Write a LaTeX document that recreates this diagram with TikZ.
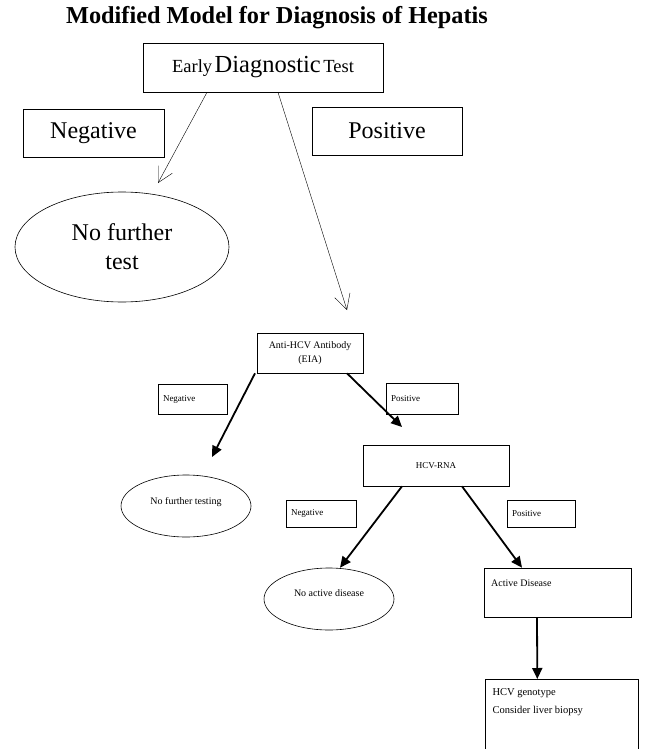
\documentclass[tikz,border=0pt]{standalone}
\usepackage{fontspec}
\setmainfont{Liberation Serif}
\usetikzlibrary{arrows.meta,positioning,shapes.geometric}

\begin{document}
\begin{tikzpicture}[x=1pt,y=-1pt,
    box/.style={draw,line width=0.6pt,inner sep=2pt},
    oval/.style={draw,ellipse,line width=0.6pt,inner sep=0pt,align=center},
    tag/.style={box,font=\fontsize{9}{11}\selectfont,align=left,inner xsep=5pt},
    small/.style={font=\fontsize{10}{14}\selectfont},
    big/.style={font=\fontsize{24}{28}\selectfont},
    thinarrow/.style={line width=0.4pt,
      -{Straight Barb[length=15pt,width=16pt,line width=0.4pt]}},
    thickarrow/.style={line width=1.8pt,-{Triangle[length=11pt,width=10pt]}}]
  \path[use as bounding box,clip] (0,0) rectangle (648,749);
  % Title
  \node[font=\fontsize{24.3}{28}\selectfont\bfseries] (title) at (277,18)
    {Modified Model for Diagnosis of Hepatis};
  % First test
  \node[box,minimum width=240pt,minimum height=49pt] (edt) at (263,67.5)
    {{\fontsize{18.5}{22}\selectfont Early} {\fontsize{24.5}{28}\selectfont Diagnostic}
     {\fontsize{18.5}{22}\selectfont Test}};
  \node[box,big,minimum width=141pt,minimum height=48pt] (neg1) at (93.5,133) {Negative};
  \node[box,big,minimum width=150pt,minimum height=48pt] (pos1) at (387,131) {Positive};
  \node[oval,minimum width=214pt,minimum height=110pt,font=\fontsize{24}{29}\selectfont]
    (nft) at (122,247) {No further\\test};
  \coordinate (tipneg) at (158,183);
  \coordinate (tippos) at (347,310);
  \draw[thinarrow] ([xshift=-56pt]edt.south) -- (tipneg);
  \draw[thinarrow] ([xshift=15pt]edt.south) -- (tippos);
  % Antibody test
  \node[box,small,align=center,minimum width=106pt,minimum height=40pt]
    (anti) at (310,353) {Anti-HCV Antibody\\(EIA)};
  \node[tag,text width=59pt,minimum height=30pt] (neg2) at (192.5,399) {Negative};
  \node[tag,text width=62pt,minimum height=31pt] (pos2) at (422,398.5) {Positive};
  \node[oval,small,minimum width=130pt,minimum height=62pt]
    (nftest) at (186,506) {No further testing\\[-3pt]};
  \coordinate (tipnftest) at (212,457);
  \coordinate (tiprna) at (402,427);
  \draw[thickarrow] ([xshift=-55pt]anti.south) -- (tipnftest);
  \draw[thickarrow] ([xshift=37pt]anti.south) -- (tiprna);
  % RNA test
  \node[box,font=\fontsize{9}{11}\selectfont,minimum width=146pt,minimum height=41pt]
    (rna) at (436,465.5) {HCV-RNA};
  \node[tag,text width=60pt,minimum height=27pt] (neg3) at (321,513.5) {Negative};
  \node[tag,text width=58pt,minimum height=27pt] (pos3) at (541,513.5) {Positive};
  \node[oval,small,minimum width=130pt,minimum height=62pt]
    (nad) at (329,599) {No active disease\\[-3pt]};
  \node[box,minimum width=147pt,minimum height=49pt,
    label={[small,anchor=north west,xshift=4pt,yshift=-9pt]north west:Active Disease}]
    (act) at (557.5,592.5) {};
  \draw[thickarrow] ([xshift=-34pt]rna.south) -- ([xshift=11pt]nad.north);
  \draw[thickarrow] ([xshift=26pt]rna.south) -- ([xshift=-35.5pt]act.north);
  % Follow-up
  \node[box,anchor=north west,minimum width=153pt,minimum height=100pt,
    label={[font=\fontsize{10.5}{18}\selectfont,align=left,anchor=north west,
      xshift=4pt,yshift=-6pt]north west:HCV genotype\\Consider liver biopsy}]
    (geno) at (485,679) {};
  \draw[thickarrow] ([xshift=-20.5pt]act.south) -- ([xshift=-24.5pt]geno.north);
\end{tikzpicture}
\end{document}
